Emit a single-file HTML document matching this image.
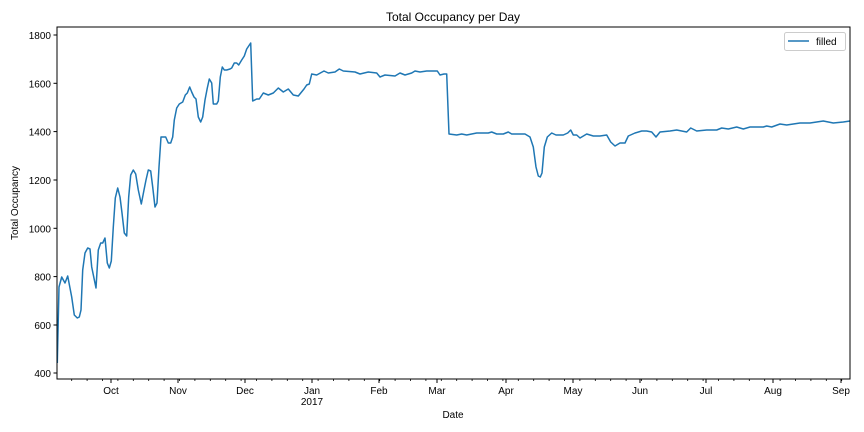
<!DOCTYPE html>
<html><head><meta charset="utf-8"><style>body{margin:0;background:#fff}svg{display:block}text{font-family:"Liberation Sans","DejaVu Sans",sans-serif;fill:#000}</style></head>
<body>
<svg id="s" width="864" height="432" viewBox="0 0 864 432" xmlns="http://www.w3.org/2000/svg">
<rect width="864" height="432" fill="#fff"/>
<text x="453" y="21" font-size="12" text-anchor="middle">Total Occupancy per Day</text>
<polyline fill="none" stroke="#1f77b4" stroke-width="1.5" stroke-linejoin="round" points="57.3,363 59,287 61.7,277 65,283 67.7,276 71.7,297 74.3,315 77.3,318 79.3,317 81,310 82.7,270 85,253 87.7,248 90,249 91.7,267 96,288 98.3,250 100.7,243 102.7,243 105,238 107.3,263 109.3,268 111.3,261 113.3,227 115.3,198 117.7,188 120,197 122,213 124.3,233 126.7,236 128.7,197 130.7,175 133.3,170 135.7,174 138.3,190 141.3,204 144,190 146,180 148.3,170 150.7,171 152.7,187 155,207 157,203 159,167 161,137 165.7,137 168.3,143 170.7,143 172.7,137 174.3,120 176.7,108 179.3,104 182.7,102 185.3,95 187.3,93 189.7,87 191.7,92 194,97 196,99 198.3,117 200.7,122 202.7,117 205,100 207.3,88 209.3,79 211.7,83 213.3,104 216.7,104 218.3,101 220.3,77 222.3,67 224.3,70 226.7,70 230,69 231.7,68 234.3,63 236.7,63 238.7,65 241.7,60 244.3,56 246.7,49 250.7,43 252.7,101 256.7,99 259.3,99 263.3,93 268.3,95 273.3,93 278.3,88 283.3,92 288.3,89 293.3,95 298.3,96 304,89 306.7,85 309.3,84 311.7,74 316.7,75 324,71 328.3,73 335,72 339.3,69 343.3,71 355,72 360,74 368.3,72 376.7,73 380,77 385,75 395,76 400,73 405,75 411.7,73 415,71 420,72 426.7,71 437.3,71 440,75 444,74 446.7,74 449,134 456.7,135 461.7,134 466.7,135 476.7,133 488.3,133 491.7,132 496.7,134 503.3,134 508.3,132 511.7,134 525,134 530,137 533.3,147 536,167 538.3,176 540.3,177 542,173 544.3,147 547.3,137 551.7,133 556,135 563.3,135 567.7,133 570.7,130 573.3,135 576.7,135 580,138 586.7,134 593.3,136 600,136 606.7,135 610.7,142 615,146 620,143 625,143 628.3,136 635,133 641.7,131 646.7,131 651.7,132 656,137 660,132 670,131 676.7,130 686.7,132 690.7,128 696.7,131 706.7,130 716.7,130 721.7,128 728.3,129 736.7,127 743.3,129 750,127 763.3,127 766.7,126 771.7,127 780,124 786.7,125 800,123 810,123 823.3,121 833.3,123 843.3,122 850,121"/>
<rect x="57" y="27" width="793" height="352" fill="none" stroke="#000" stroke-width="1"/>
<g stroke="#000" stroke-width="1">
<line x1="53.5" y1="373" x2="57" y2="373"/><line x1="53.5" y1="325" x2="57" y2="325"/><line x1="53.5" y1="276.6" x2="57" y2="276.6"/><line x1="53.5" y1="228.3" x2="57" y2="228.3"/><line x1="53.5" y1="180" x2="57" y2="180"/><line x1="53.5" y1="131.6" x2="57" y2="131.6"/><line x1="53.5" y1="83.3" x2="57" y2="83.3"/><line x1="53.5" y1="35" x2="57" y2="35"/>
<line x1="111" y1="379" x2="111" y2="383"/><line x1="178" y1="379" x2="178" y2="383"/><line x1="245" y1="379" x2="245" y2="383"/><line x1="312" y1="379" x2="312" y2="383"/><line x1="379" y1="379" x2="379" y2="383"/><line x1="437" y1="379" x2="437" y2="383"/><line x1="506" y1="379" x2="506" y2="383"/><line x1="573" y1="379" x2="573" y2="383"/><line x1="640" y1="379" x2="640" y2="383"/><line x1="706" y1="379" x2="706" y2="383"/><line x1="773" y1="379" x2="773" y2="383"/><line x1="841" y1="379" x2="841" y2="383"/>
</g>
<g id="minor" stroke="#000" stroke-width="0.8"></g>
<g font-size="10" text-anchor="end">
<text x="51" y="377">400</text><text x="51" y="329">600</text><text x="51" y="280.6">800</text><text x="51" y="232.3">1000</text><text x="51" y="184">1200</text><text x="51" y="135.6">1400</text><text x="51" y="87.3">1600</text><text x="51" y="39">1800</text>
</g>
<g font-size="10" text-anchor="middle">
<text x="111" y="394">Oct</text><text x="178" y="394">Nov</text><text x="245" y="394">Dec</text><text x="312" y="394">Jan</text><text x="312" y="405">2017</text><text x="379" y="394">Feb</text><text x="437" y="394">Mar</text><text x="506" y="394">Apr</text><text x="573" y="394">May</text><text x="640" y="394">Jun</text><text x="706" y="394">Jul</text><text x="773" y="394">Aug</text><text x="841" y="394">Sep</text>
</g>
<text x="453" y="418" font-size="10" text-anchor="middle">Date</text>
<text transform="translate(18,203) rotate(-90)" font-size="10" text-anchor="middle">Total Occupancy</text>
<rect x="784.5" y="32.5" width="61" height="18" rx="2" fill="#fff" stroke="#ccc"/>
<line x1="788" y1="41" x2="809" y2="41" stroke="#1f77b4" stroke-width="1.5"/>
<text x="816" y="45" font-size="10">filled</text>
</svg>
<script>
var g=document.getElementById('minor'),h='';
for(var x=71.7;x<850;x+=15.4){h+='<line x1="'+x+'" y1="379" x2="'+x+'" y2="381"/>';}
g.innerHTML=h;
</script>
</body></html>
